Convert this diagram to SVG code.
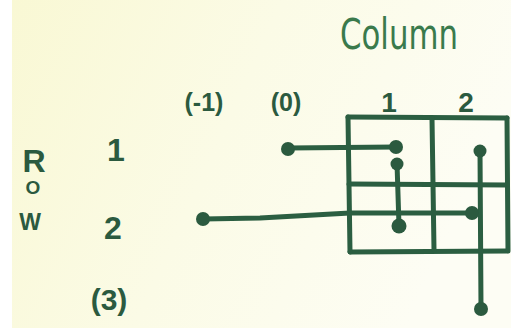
<svg xmlns="http://www.w3.org/2000/svg" width="511" height="329" viewBox="0 0 511 329">
<defs>
<linearGradient id="bg" x1="0" y1="0" x2="1" y2="0.3">
<stop offset="0" stop-color="#f9f8d4"/>
<stop offset="0.5" stop-color="#fbfbe6"/>
<stop offset="1" stop-color="#fdfdf4"/>
</linearGradient>
<style>
.ln{stroke:#2b5e41;stroke-width:5;fill:none;stroke-linecap:round;stroke-linejoin:round}
.dot{fill:#2b5a3f}
.lbl{font-family:"Liberation Sans",Arial,sans-serif;font-weight:bold;fill:#2b5a3f;text-anchor:middle}
.ttl{font-family:"DejaVu Sans",sans-serif;fill:#3a7a4c;text-anchor:middle}
</style>
</defs>
<rect width="511" height="329" fill="#ffffff"/>
<rect x="12" y="0" width="499" height="328" fill="url(#bg)"/>
<text class="ttl" x="399" y="49" font-size="42" textLength="118" lengthAdjust="spacingAndGlyphs">Column</text>
<g id="col-labels">
<text class="lbl" x="204" y="111" font-size="25">(-1)</text>
<text class="lbl" x="286" y="111" font-size="25">(0)</text>
<text class="lbl" x="389" y="112" font-size="28">1</text>
<text class="lbl" x="466" y="112" font-size="28">2</text>
</g>
<g id="row-labels">
<text class="lbl" x="34" y="172" font-size="32">R</text>
<text class="lbl" x="33" y="194" font-size="19">O</text>
<text class="lbl" x="30" y="230" font-size="23">W</text>
<text class="lbl" x="116" y="161" font-size="32">1</text>
<text class="lbl" x="113" y="239" font-size="32">2</text>
<text class="lbl" x="109" y="310" font-size="30">(3)</text>
</g>
<g id="grid">
<path class="ln" d="M348 117 L507 118"/>
<path class="ln" d="M349 184 L507 185"/>
<path class="ln" d="M350 252 L507 251"/>
<path class="ln" d="M348 117 L350 252"/>
<path class="ln" d="M432 118 L434 250"/>
<path class="ln" d="M507 118 L508 251"/>
</g>
<g id="connectors">
<path class="ln" d="M288 148 L396 147"/>
<path class="ln" d="M397 163 L399 226"/>
<path class="ln" d="M203 219 L260 218 L350 213 L473 213"/>
<path class="ln" d="M480 151 L481 308"/>
</g>
<g id="dots">
<circle class="dot" cx="288" cy="149" r="7"/>
<circle class="dot" cx="396" cy="147" r="7"/>
<circle class="dot" cx="397" cy="164" r="6.5"/>
<circle class="dot" cx="399" cy="226" r="7.5"/>
<circle class="dot" cx="203" cy="219" r="7"/>
<circle class="dot" cx="472" cy="213" r="7"/>
<circle class="dot" cx="480" cy="151" r="6.5"/>
<circle class="dot" cx="481" cy="309" r="7"/>
</g>
</svg>
